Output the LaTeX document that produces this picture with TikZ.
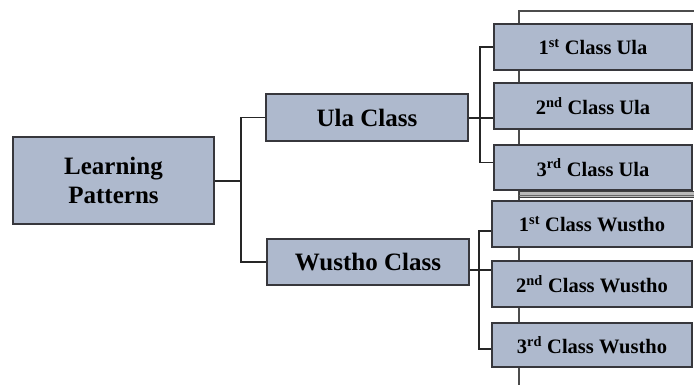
\documentclass[tikz,border=0pt]{standalone}
\usepackage{fontspec}
\setmainfont{Liberation Serif}
\definecolor{boxfill}{RGB}{174,185,205}
\definecolor{boxline}{RGB}{55,55,60}
\definecolor{bandgray}{RGB}{185,185,185}
\begin{document}
\begin{tikzpicture}[x=1pt,y=-1pt,
  box/.style={draw=boxline,line width=1.4pt,fill=boxfill,inner sep=0pt,align=center,font=\bfseries},
  big/.style={box,font=\fontsize{25}{29}\selectfont\bfseries},
  small/.style={box,font=\fontsize{20.5}{24}\selectfont\bfseries},
  conn/.style={draw=black!85,line width=1.2pt}]
\useasboundingbox (0,0) rectangle (694,385);
% background frame lines
\draw[draw=black!70,line width=1.3pt] (519,385) -- (519,11) -- (694,11);
\draw[draw=black!75,fill=bandgray,line width=1pt] (519,192) rectangle (694,198);
\draw[draw=black!60,line width=0.8pt] (519,195) -- (694,195);
% nodes
\node[big,minimum width=201pt,minimum height=87pt] (lp) at (113.5,180.5) {Learning\\Patterns};
\node[big,minimum width=202pt,minimum height=47pt] (ula) at (367,117.5) {Ula Class};
\node[big,minimum width=202pt,minimum height=46pt] (wus) at (368,262) {Wustho Class};
\node[small,minimum width=198pt,minimum height=46pt] (u1) at (593,47) {1\textsuperscript{st} Class Ula};
\node[small,minimum width=198pt,minimum height=46pt] (u2) at (593,106) {2\textsuperscript{nd} Class Ula};
\node[small,minimum width=198pt,minimum height=45pt] (u3) at (593,167.5) {3\textsuperscript{rd} Class Ula};
\node[small,minimum width=200pt,minimum height=46pt] (w1) at (592,224) {1\textsuperscript{st} Class Wustho};
\node[small,minimum width=200pt,minimum height=46pt] (w2) at (592,284) {2\textsuperscript{nd} Class Wustho};
\node[small,minimum width=200pt,minimum height=44pt] (w3) at (592,345) {3\textsuperscript{rd} Class Wustho};
% junction coordinates
\coordinate (j1) at (241,181);
\coordinate (j2) at (480,118);
\coordinate (j3) at (479,270);
% connectors
\draw[conn] (lp.east |- j1) -- (j1);
\draw[conn] (ula.west) -| (j1) |- (wus.west);
\draw[conn] (ula.east |- j2) -- (j2);
\draw[conn] (u1.west) -| (j2) |- ([yshift=5pt]u3.west);
\draw[conn] (j2) -- (u2.west |- j2);
\draw[conn] (wus.east |- j3) -- (j3);
\draw[conn] ([yshift=-7pt]w1.west) -| (j3) |- ([yshift=-4pt]w3.west);
\draw[conn] (j3) -- (w2.west |- j3);
\end{tikzpicture}
\end{document}
